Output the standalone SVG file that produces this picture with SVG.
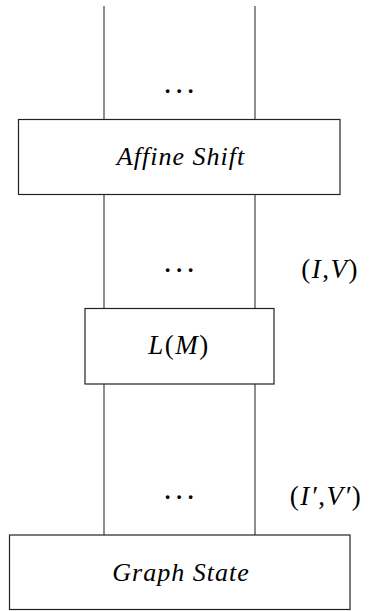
<svg xmlns="http://www.w3.org/2000/svg" width="372" height="611" viewBox="0 0 372 611">
<style>
.box{fill:#fff;stroke:#222;stroke-width:1.2}
.wire{stroke:#444;stroke-width:1.2;fill:none}
.t{font-family:"Liberation Serif","DejaVu Serif",serif;font-style:italic;font-size:26px;letter-spacing:1px;fill:#000;text-anchor:middle;dominant-baseline:central}
.m{font-family:"Liberation Serif","DejaVu Serif",serif;font-size:27px;letter-spacing:1.5px;fill:#000;text-anchor:middle;dominant-baseline:central}
.d{font-family:"Liberation Serif","DejaVu Serif",serif;font-size:23px;font-weight:bold;fill:#000;text-anchor:middle}
</style>
<g id="connectors">
<line class="wire" x1="104" y1="6" x2="104" y2="535"/>
<line class="wire" x1="255" y1="6" x2="255" y2="535"/>
</g>
<g id="dots1"><text class="d" x="179" y="93">. . .</text></g>
<g id="affine-shift">
<rect class="box" x="18.5" y="119.5" width="321.5" height="75"/>
<text class="t" x="181" y="156">Affine Shift</text>
</g>
<g id="dots2"><text class="d" x="179" y="272">. . .</text></g>
<g id="label-iv"><text class="m" x="330" y="269"><tspan>(</tspan><tspan font-style="italic">I</tspan><tspan>,</tspan><tspan font-style="italic">V</tspan><tspan>)</tspan></text></g>
<g id="lm">
<rect class="box" x="85" y="308.5" width="189" height="75.5"/>
<text class="m" x="179" y="345"><tspan font-style="italic">L</tspan><tspan>(</tspan><tspan font-style="italic">M</tspan><tspan>)</tspan></text>
</g>
<g id="dots3"><text class="d" x="179" y="499">. . .</text></g>
<g id="label-iv2"><text class="m" x="326" y="496"><tspan>(</tspan><tspan font-style="italic">I′</tspan><tspan>,</tspan><tspan font-style="italic">V′</tspan><tspan>)</tspan></text></g>
<g id="graph-state">
<rect class="box" x="9.5" y="535" width="340.5" height="74.5"/>
<text class="t" x="181" y="572">Graph State</text>
</g>
</svg>
